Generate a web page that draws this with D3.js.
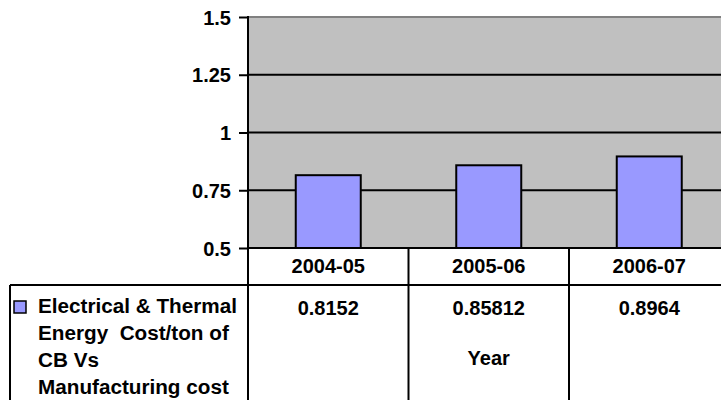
<!DOCTYPE html>
<html>
<head>
<meta charset="utf-8">
<script src="https://cdn.jsdelivr.net/npm/d3@7"></script>
<style>
  html, body { margin: 0; padding: 0; background: #fff; }
  svg { display: block; }
  text { font-family: Arial, "Liberation Sans", sans-serif; font-weight: bold; fill: #000; }
</style>
</head>
<body>
<svg id="chart" width="721" height="400"></svg>
<script>
// Data
const categories = ["2004-05", "2005-06", "2006-07"];
const values = [0.8152, 0.85812, 0.8964];
const valueLabels = ["0.8152", "0.85812", "0.8964"];
const yTicks = [0.5, 0.75, 1, 1.25, 1.5];
const yTickLabels = ["0.5", "0.75", "1", "1.25", "1.5"];
const seriesName = ["Electrical & Thermal", "Energy  Cost/ton of", "CB Vs", "Manufacturing cost"];
const axisTitle = "Year";

const svg = d3.select("#chart");
const fontSize = 20;
const legendFontSize = 20.7;

// Plot geometry
const plot = { left: 248, top: 17, bottom: 248, band: 160.5 };
const plotRight = plot.left + plot.band * categories.length;

const x = d3.scaleBand().domain(categories).range([plot.left, plotRight]).paddingInner(0).paddingOuter(0);
const y = d3.scaleLinear().domain([0.5, 1.5]).range([plot.bottom, plot.top]);

// Plot background
svg.append("rect")
  .attr("x", plot.left).attr("y", plot.top)
  .attr("width", plotRight - plot.left).attr("height", plot.bottom - plot.top)
  .attr("fill", "#c0c0c0");

// Top border
svg.append("line")
  .attr("x1", plot.left).attr("x2", plotRight)
  .attr("y1", plot.top).attr("y2", plot.top)
  .attr("stroke", "#808080").attr("stroke-width", 2);

// Gridlines (below the top border)
svg.append("g").selectAll("line")
  .data(yTicks.filter(t => t < 1.5))
  .join("line")
  .attr("x1", plot.left).attr("x2", plotRight)
  .attr("y1", d => y(d)).attr("y2", d => y(d))
  .attr("stroke", "#000").attr("stroke-width", 2);

// Bars
const barW = 65;
svg.append("g").selectAll("rect")
  .data(values)
  .join("rect")
  .attr("x", (d, i) => x(categories[i]) + (x.bandwidth() - barW) / 2)
  .attr("y", d => y(d))
  .attr("width", barW)
  .attr("height", d => y(0.5) - y(d))
  .attr("fill", "#9999ff")
  .attr("stroke", "#000").attr("stroke-width", 2);

// Y axis
const yAxis = d3.axisLeft(y)
  .tickValues(yTicks)
  .tickFormat((d, i) => yTickLabels[i])
  .tickSize(9).tickPadding(8);
const gy = svg.append("g").attr("transform", `translate(${plot.left},0)`).call(yAxis);
gy.select(".domain").remove();
gy.selectAll(".tick line").attr("stroke", "#000").attr("stroke-width", 2);
gy.selectAll(".tick text")
  .attr("font-size", fontSize).attr("font-family", "Arial, 'Liberation Sans', sans-serif")
  .attr("font-weight", "bold").attr("fill", "#000").attr("dy", "0.36em");

// Left axis line, continuing down as the table's left data border
svg.append("line")
  .attr("x1", plot.left).attr("x2", plot.left)
  .attr("y1", plot.top - 1).attr("y2", 400)
  .attr("stroke", "#000").attr("stroke-width", 2);

// Data table
const headerBottom = 285;
const tableLeft = 10;
const tableBottom = 420;
const t = svg.append("g");

// Horizontal rules
t.append("line").attr("x1", plot.left).attr("x2", plotRight)
  .attr("y1", plot.bottom).attr("y2", plot.bottom)
  .attr("stroke", "#000").attr("stroke-width", 2);
t.append("line").attr("x1", tableLeft).attr("x2", plotRight)
  .attr("y1", headerBottom).attr("y2", headerBottom)
  .attr("stroke", "#000").attr("stroke-width", 2);

// Vertical rules between categories
t.selectAll("line.col")
  .data(categories.slice(1).concat(["end"]))
  .join("line").attr("class", "col")
  .attr("x1", (d, i) => plot.left + x.bandwidth() * (i + 1))
  .attr("x2", (d, i) => plot.left + x.bandwidth() * (i + 1))
  .attr("y1", plot.bottom).attr("y2", tableBottom)
  .attr("stroke", "#000").attr("stroke-width", 2);

// Legend cell left border
t.append("line").attr("x1", tableLeft).attr("x2", tableLeft)
  .attr("y1", headerBottom).attr("y2", tableBottom)
  .attr("stroke", "#000").attr("stroke-width", 2);

// Category headers
t.selectAll("text.cat")
  .data(categories)
  .join("text").attr("class", "cat")
  .attr("x", d => x(d) + x.bandwidth() / 2)
  .attr("y", 273)
  .attr("text-anchor", "middle")
  .attr("font-size", fontSize)
  .text(d => d);

// Values row
t.selectAll("text.val")
  .data(valueLabels)
  .join("text").attr("class", "val")
  .attr("x", (d, i) => x(categories[i]) + x.bandwidth() / 2)
  .attr("y", 315)
  .attr("text-anchor", "middle")
  .attr("font-size", fontSize)
  .text(d => d);

// Axis title inside the table
t.append("text")
  .attr("x", x(categories[1]) + x.bandwidth() / 2)
  .attr("y", 365)
  .attr("text-anchor", "middle")
  .attr("font-size", fontSize)
  .text(axisTitle);

// Legend key and series name
t.append("rect")
  .attr("x", 14).attr("y", 301).attr("width", 12).attr("height", 12)
  .attr("fill", "#9999ff").attr("stroke", "#000").attr("stroke-width", 1.5);

t.selectAll("text.leg")
  .data(seriesName)
  .join("text").attr("class", "leg")
  .attr("x", 38)
  .attr("y", (d, i) => 313 + i * 27)
  .attr("font-size", legendFontSize)
  .attr("xml:space", "preserve")
  .style("white-space", "pre")
  .text(d => d);
</script>
</body>
</html>
